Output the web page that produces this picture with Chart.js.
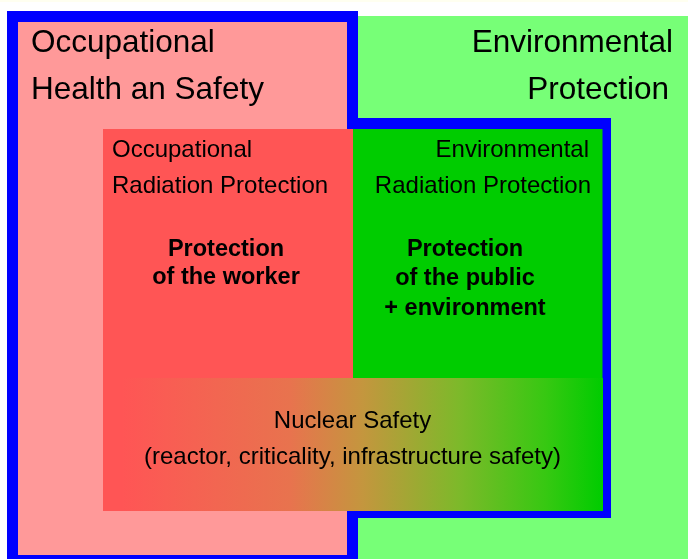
<!DOCTYPE html>
<html>
<head>
<meta charset="utf-8">
<script src="https://cdn.jsdelivr.net/npm/chart.js@4/dist/chart.umd.min.js"></script>
<style>
    html, body { margin: 0; padding: 0; background: #ffffff; }
    #wrap { width: 688px; height: 559px; }
</style>
</head>
<body>
<div id="wrap"><canvas id="diagram" width="688" height="559"></canvas></div>
<script>
// Diagram regions, in diagram units (the hidden x/y scales run 0..688 and 0..559).
const regionNames = [
    'Occupational Health an Safety',
    'Environmental Protection',
    'Occupational Radiation Protection',
    'Environmental Radiation Protection',
    'Nuclear Safety'
];
const regionLeft = [18, 358, 103, 353, 103];
const regionRight = [347, 688, 353, 602.5, 603];
const regionTop = [22, 16, 129, 129, 378];
const regionBottom = [555, 559, 511, 511, 511];

// Blue outline = union of these two rectangles, painted under the regions.
const frameLeft = [7, 347];
const frameRight = [358, 611];
const frameTop = [11, 118];
const frameBottom = [570, 518];

// Text content of each block.
const ohsLines = ['Occupational', 'Health an Safety'];
const epLines = ['Environmental', 'Protection'];
const orpLines = ['Occupational', 'Radiation Protection'];
const erpLines = ['Environmental', 'Radiation Protection'];
const workerLines = ['Protection', 'of the worker'];
const publicLines = ['Protection', 'of the public', '+ environment'];
const nuclearLines = ['Nuclear Safety', '(reactor, criticality, infrastructure safety)'];

const FONT = "'Liberation Sans', Arial, Helvetica, sans-serif";

// Order in which regions are painted (outer ones first, nuclear band last).
const PAINT = [
    { i: 1, color: '#77ff77' },
    { frame: true, color: '#0000ff' },
    { i: 0, color: '#ff9999' },
    { i: 2, color: '#ff5555' },
    { i: 3, color: '#00cc00' },
    { i: 4, gradient: true }
];

// Text blocks: which lines, anchor and baselines (diagram units).
const TEXT_BLOCKS = [
    { lines: ohsLines, x: 31, ys: [52, 99], align: 'left', font: '31.5px ' + FONT },
    { lines: epLines, x: 673, ys: [52, 99], align: 'right', font: '31.5px ' + FONT, dx: [0, -4] },
    { lines: orpLines, x: 112, ys: [157, 193], align: 'left', font: '24px ' + FONT },
    { lines: erpLines, x: 591, ys: [157, 193], align: 'right', font: '24px ' + FONT, dx: [-2, 0] },
    { lines: workerLines, x: 226, ys: [256, 284], align: 'center', font: 'bold 23.5px ' + FONT },
    { lines: publicLines, x: 465, ys: [256, 285, 315], align: 'center', font: 'bold 23.5px ' + FONT },
    { lines: nuclearLines, x: 352.5, ys: [428, 464], align: 'center', font: '24px ' + FONT }
];

const diagramPlugin = {
    id: 'diagram',
    beforeDatasetsDraw(chart) {
        const { ctx, scales: { x, y } } = chart;
        const rect = (l, r, t, b) => {
            const px = x.getPixelForValue(l);
            const py = y.getPixelForValue(t);
            return [px, py, x.getPixelForValue(r) - px, y.getPixelForValue(b) - py];
        };

        ctx.save();
        // faint strip along the very top edge
        ctx.fillStyle = '#fffff0';
        ctx.fillRect(...rect(0, 688, 0, 2));

        PAINT.forEach(p => {
            if (p.frame) {
                ctx.fillStyle = p.color;
                frameLeft.forEach((_, k) => {
                    ctx.fillRect(...rect(frameLeft[k], frameRight[k], frameTop[k], frameBottom[k]));
                });
                return;
            }
            const r = rect(regionLeft[p.i], regionRight[p.i], regionTop[p.i], regionBottom[p.i]);
            if (p.gradient) {
                const g = ctx.createLinearGradient(x.getPixelForValue(122), 0, x.getPixelForValue(603), 0);
                g.addColorStop(0, 'rgb(255,85,85)');
                g.addColorStop(0.35, 'rgb(232,115,78)');
                g.addColorStop(0.5, 'rgb(196,150,62)');
                g.addColorStop(0.7, 'rgb(125,185,42)');
                g.addColorStop(0.88, 'rgb(55,200,18)');
                g.addColorStop(1, 'rgb(0,204,0)');
                ctx.fillStyle = g;
            } else {
                ctx.fillStyle = p.color;
            }
            ctx.fillRect(...r);
        });

        ctx.fillStyle = '#000000';
        ctx.textBaseline = 'alphabetic';
        TEXT_BLOCKS.forEach(b => {
            ctx.font = b.font;
            ctx.textAlign = b.align;
            b.lines.forEach((line, k) => {
                const dx = b.dx ? b.dx[k] : 0;
                ctx.fillText(line, x.getPixelForValue(b.x + dx), y.getPixelForValue(b.ys[k]));
            });
        });
        ctx.restore();
    }
};

new Chart(document.getElementById('diagram'), {
    type: 'scatter',
    data: { datasets: [{ label: 'regions', data: [] }] },
    options: {
        responsive: false,
        animation: false,
        layout: { padding: 0 },
        scales: {
            x: { type: 'linear', min: 0, max: 688, display: false },
            y: { type: 'linear', min: 0, max: 559, reverse: true, display: false }
        },
        plugins: { legend: { display: false }, tooltip: { enabled: false } }
    },
    plugins: [diagramPlugin]
});
</script>
</body>
</html>
